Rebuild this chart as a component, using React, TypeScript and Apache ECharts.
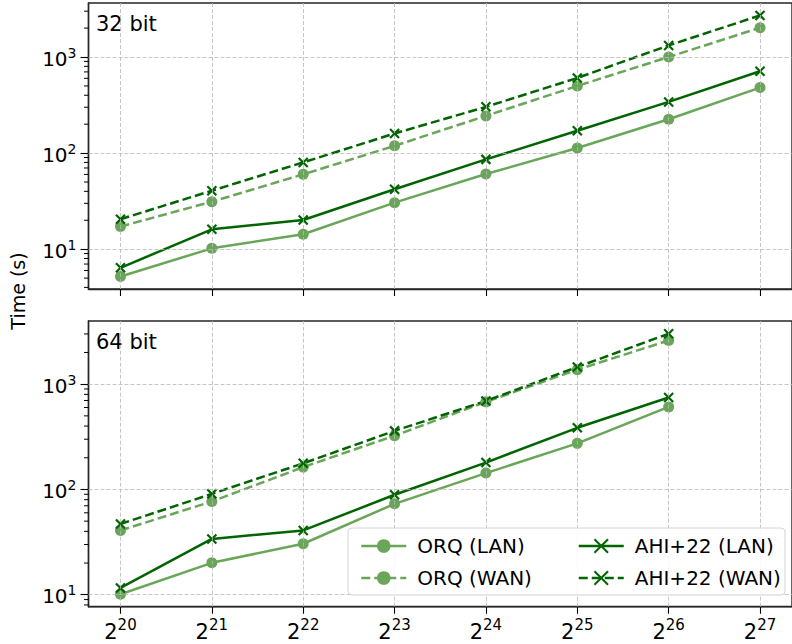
import React, { useEffect, useRef } from 'react';
import * as echarts from 'echarts';

const sizeExponents = [20, 21, 22, 23, 24, 25, 26, 27];
const sizeExponents64 = [20, 21, 22, 23, 24, 25, 26];
const yMajorTicks = [10, 100, 1000];

const orqLan32 = [5.2, 10.2, 14.3, 30.5, 60.5, 113, 225, 481];
const ahiLan32 = [6.4, 16.1, 20.1, 42, 86, 171, 341, 711];
const orqWan32 = [17.2, 31.2, 60.1, 119, 244, 500, 1000, 2018];
const ahiWan32 = [20.5, 40.6, 80, 160, 303, 605, 1321, 2710];

const orqLan64 = [10.1, 20.1, 30.5, 73, 143, 274, 608];
const ahiLan64 = [11.6, 33.9, 40.8, 89, 180, 385, 747];
const orqWan64 = [40.8, 76.9, 163, 324, 679, 1374, 2600];
const ahiWan64 = [47, 90.8, 177, 360, 693, 1455, 3013];

const LIGHT = '#6aa65a';
const DARK = '#006400';
const FONT = 'DejaVu Sans';
const X_MIN = 19.65;
const X_MAX = 27.35;
const CROSS = 'path://M0,0L10,10M10,0L0,10';

function minorValues(lo: number, hi: number) {
  const out: number[] = [];
  for (let k = 0; k < 4; k++) {
    for (let m = 2; m <= 9; m++) {
      const v = m * Math.pow(10, k);
      if (v >= lo && v <= hi) out.push(v);
    }
  }
  return out;
}

export default function App() {
  const ref = useRef<HTMLDivElement>(null);
  useEffect(() => {
    if (!ref.current) return;
    const chart = echarts.init(ref.current, null, { renderer: 'svg' });
    const yRanges = [
      [3.85, 3650],
      [7.7, 3980],
    ];
    const grids = [
      { left: 88.5, top: 3, width: 707.5, height: 286 },
      { left: 88.5, top: 321, width: 707.5, height: 285.7 },
    ];
    const gridLineStyle = { color: '#b8b8b8', type: [4, 2], width: 0.8 };

    const mkPairs = (xs: number[], ys: number[]) => ys.map((y, i) => [xs[i], y]);

    const lineSeries = (name: string, gi: number, xs: number[], ys: number[], light: boolean, dashed: boolean) => ({
      type: 'line',
      name,
      xAxisIndex: gi,
      yAxisIndex: gi,
      data: mkPairs(xs, ys),
      symbol: light ? 'circle' : CROSS,
      symbolSize: light ? 11 : 9,
      showSymbol: true,
      lineStyle: { color: light ? LIGHT : DARK, width: 2.5, type: dashed ? [9, 4] : 'solid' },
      itemStyle: light
        ? { color: LIGHT, borderWidth: 0 }
        : { color: DARK, borderColor: DARK, borderWidth: 2.2 },
      z: 3,
    });

    const series: any[] = [];
    [0, 1].forEach((gi) => {
      series.push({
        type: 'line',
        xAxisIndex: gi,
        yAxisIndex: gi,
        data: [],
        silent: true,
        z: 1,
        markLine: {
          silent: true,
          symbol: ['none', 'none'],
          label: { show: false },
          lineStyle: gridLineStyle,
          data: [
            ...sizeExponents.map((v) => ({ xAxis: v })),
            ...yMajorTicks.map((v) => ({ yAxis: v })),
          ],
        },
      });
      series.push({
        type: 'custom',
        xAxisIndex: gi,
        yAxisIndex: gi,
        silent: true,
        clip: false,
        data: minorValues(yRanges[gi][0], yRanges[gi][1]).map((v) => [X_MIN, v]),
        renderItem: (params: any, api: any) => {
          const p = api.coord([X_MIN, api.value(1)]);
          return {
            type: 'line',
            shape: { x1: p[0] - 4.5, y1: p[1], x2: p[0], y2: p[1] },
            style: { stroke: '#000', lineWidth: 1 },
          };
        },
      });
    });
    series.push(lineSeries('ORQ (LAN)', 0, sizeExponents, orqLan32, true, false));
    series.push(lineSeries('ORQ (WAN)', 0, sizeExponents, orqWan32, true, true));
    series.push(lineSeries('AHI+22 (LAN)', 0, sizeExponents, ahiLan32, false, false));
    series.push(lineSeries('AHI+22 (WAN)', 0, sizeExponents, ahiWan32, false, true));
    series.push(lineSeries('ORQ (LAN)', 1, sizeExponents64, orqLan64, true, false));
    series.push(lineSeries('ORQ (WAN)', 1, sizeExponents64, orqWan64, true, true));
    series.push(lineSeries('AHI+22 (LAN)', 1, sizeExponents64, ahiLan64, false, false));
    series.push(lineSeries('AHI+22 (WAN)', 1, sizeExponents64, ahiWan64, false, true));

    const xAxes = [0, 1].map((gi) => ({
      type: 'value',
      gridIndex: gi,
      min: X_MIN,
      max: X_MAX,
      axisLine: { show: true, lineStyle: { color: '#262626', width: 1.4 } },
      axisTick: {
        show: true,
        inside: false,
        length: 7,
        customValues: sizeExponents,
        lineStyle: { color: '#000', width: 1.1 },
      },
      splitLine: { show: false },
      axisLabel: {
        show: gi === 1,
        customValues: sizeExponents,
        margin: 11,
        formatter: (v: number) => `{b|2}{s|${v}}`,
        rich: {
          b: { fontSize: 21, fontFamily: FONT, color: '#000', verticalAlign: 'bottom' },
          s: { fontSize: 15, fontFamily: FONT, color: '#000', verticalAlign: 'bottom', padding: [0, 0, 10, 0] },
        },
      },
    }));

    const yAxes = [0, 1].map((gi) => ({
      type: 'log',
      logBase: 10,
      gridIndex: gi,
      min: yRanges[gi][0],
      max: yRanges[gi][1],
      axisLine: { show: true, lineStyle: { color: '#262626', width: 1.4 } },
      axisTick: {
        show: true,
        inside: false,
        length: 8,
        customValues: yMajorTicks,
        lineStyle: { color: '#000', width: 1.1 },
      },
      splitLine: { show: false },
      minorTick: { show: false },
      axisLabel: {
        customValues: yMajorTicks,
        margin: 12,
        formatter: (v: number) => {
          const e = Math.round(Math.log10(v));
          if (Math.abs(Math.pow(10, e) - v) > 1e-6 * v) return '';
          return `{b|10}{s|${e}}`;
        },
        rich: {
          b: { fontSize: 20, fontFamily: FONT, color: '#000', verticalAlign: 'bottom' },
          s: { fontSize: 14, fontFamily: FONT, color: '#000', verticalAlign: 'bottom', padding: [0, 0, 9, 0] },
        },
      },
    }));

    const legendCommon = {
      orient: 'vertical',
      top: 531,
      itemWidth: 45,
      itemHeight: 17,
      itemGap: 12,
      z: 200,
      selectedMode: false,
      lineStyle: { width: 2.5 },
      textStyle: { fontSize: 20, fontFamily: FONT, color: '#000', padding: [0, 0, 0, 6] },
    };

    chart.setOption({
      animation: false,
      backgroundColor: '#fff',
      grid: grids.map((g) => ({
        ...g,
        show: true,
        borderColor: '#262626',
        borderWidth: 1.4,
        backgroundColor: 'transparent',
        containLabel: false,
      })),
      xAxis: xAxes,
      yAxis: yAxes,
      legend: [
        { ...legendCommon, left: 355, data: ['ORQ (LAN)', 'ORQ (WAN)'] },
        { ...legendCommon, left: 572.5, data: ['AHI+22 (LAN)', 'AHI+22 (WAN)'] },
      ],
      graphic: [
        {
          type: 'rect',
          z: 100,
          shape: { x: 348, y: 528, width: 437, height: 67, r: 4 },
          style: { fill: 'rgba(255,255,255,0.85)', stroke: '#d4d4d4', lineWidth: 1 },
        },
        {
          type: 'text',
          left: 96,
          top: 13,
          style: { text: '32 bit', fontSize: 21, fontFamily: FONT, fill: '#000' },
        },
        {
          type: 'text',
          left: 96,
          top: 331,
          style: { text: '64 bit', fontSize: 21, fontFamily: FONT, fill: '#000' },
        },
        {
          type: 'text',
          x: 18,
          y: 291,
          rotation: Math.PI / 2,
          style: {
            text: 'Time (s)',
            fontSize: 19,
            fontFamily: FONT,
            fill: '#000',
            align: 'center',
            verticalAlign: 'middle',
          },
        },
      ],
      series,
    });
    return () => chart.dispose();
  }, []);
  return (
    <div
      ref={ref}
      style={{ position: 'fixed', left: 0, top: 0, width: 792, height: 644 }}
    />
  );
}
